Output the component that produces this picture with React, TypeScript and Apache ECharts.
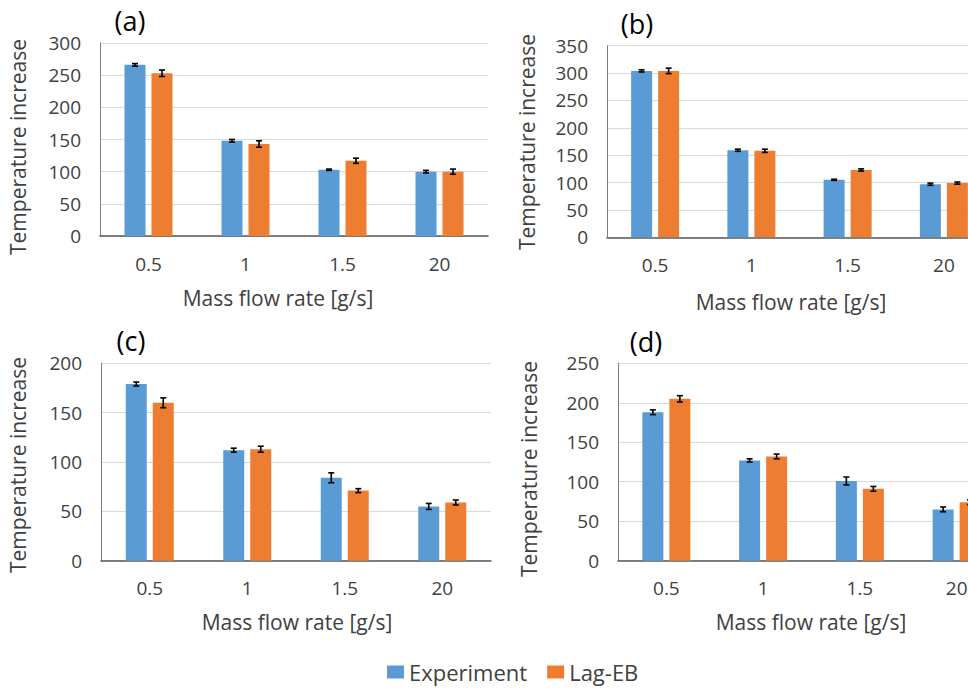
import React, { useEffect, useRef } from "react";
import * as echarts from "echarts";

const categories = ["0.5", "1", "1.5", "20"];

const aExp = [266, 148, 103, 100];
const aExpErr = [2, 2, 1, 2];
const aLag = [253, 143, 117, 100];
const aLagErr = [5, 5, 4, 4];

const bExp = [304, 159, 105, 97];
const bExpErr = [2, 2, 1, 2];
const bLag = [304, 158, 123, 99];
const bLagErr = [5, 3, 2, 2];

const cExp = [179, 112, 84, 55];
const cExpErr = [2, 2, 5, 3];
const cLag = [160, 113, 71, 59];
const cLagErr = [5, 3, 2, 2.5];

const dExp = [188, 127, 101, 65];
const dExpErr = [3, 2, 5, 3];
const dLag = [205, 132, 91, 74];
const dLagErr = [4, 3, 3, 3];

const yMax = [300, 350, 200, 250];
const panelLabels = ["(a)", "(b)", "(c)", "(d)"];
const seriesNames = ["Experiment", "Lag-EB"];

const FONT = "Open Sans";
const BLUE = "#5B9BD5";
const ORANGE = "#ED7D31";
const TEXT = "#404040";
const BAR_W = 21;
const BAR_GAP = 6;

const grids = [
  { left: 100, top: 43, width: 388, height: 193 },
  { left: 607, top: 45.7, width: 385, height: 191.6 },
  { left: 101, top: 363.3, width: 390, height: 197.4 },
  { left: 618, top: 363.3, width: 387, height: 197.4 },
];

const yNamePos = [
  [18, 147],
  [527, 142],
  [18, 465],
  [529, 469],
];
const xNamePos = [
  [278, 298],
  [791, 302],
  [297, 622],
  [811, 622],
];
const labelPos = [
  [130, 20],
  [637, 23],
  [131, 340],
  [646, 341],
];

export default function App() {
  const ref = useRef<HTMLDivElement>(null);
  useEffect(() => {
    if (!ref.current) return;
    const chart = echarts.init(ref.current, null, { renderer: "svg" });
    const panels = [
      [aExp, aExpErr, aLag, aLagErr],
      [bExp, bExpErr, bLag, bLagErr],
      [cExp, cExpErr, cLag, cLagErr],
      [dExp, dExpErr, dLag, dLagErr],
    ];
    const series: any[] = [];
    panels.forEach((p, i) => {
      const [exp, expErr, lag, lagErr] = p as number[][];
      series.push({
        type: "bar",
        name: seriesNames[0],
        xAxisIndex: i,
        yAxisIndex: i,
        data: exp,
        barWidth: BAR_W,
        barGap: (BAR_GAP / BAR_W) * 100 + "%",
        itemStyle: { color: BLUE },
      });
      series.push({
        type: "bar",
        name: seriesNames[1],
        xAxisIndex: i,
        yAxisIndex: i,
        data: lag,
        barWidth: BAR_W,
        barGap: (BAR_GAP / BAR_W) * 100 + "%",
        itemStyle: { color: ORANGE },
      });
      [
        [exp, expErr, -(BAR_W + BAR_GAP) / 2],
        [lag, lagErr, (BAR_W + BAR_GAP) / 2],
      ].forEach(([vals, errs, off]: any) => {
        series.push({
          type: "custom",
          xAxisIndex: i,
          yAxisIndex: i,
          z: 10,
          data: (vals as number[]).map((v, k) => [k, v - errs[k], v + errs[k]]),
          encode: { x: 0, y: [1, 2] },
          renderItem: (params: any, api: any) => {
            const xi = api.value(0);
            const lo = api.coord([xi, api.value(1)]);
            const hi = api.coord([xi, api.value(2)]);
            const x = lo[0] + off;
            const st = { stroke: "#000", lineWidth: 1.6 };
            return {
              type: "group",
              children: [
                { type: "line", shape: { x1: x, y1: hi[1], x2: x, y2: lo[1] }, style: st },
                { type: "line", shape: { x1: x - 3, y1: hi[1], x2: x + 3, y2: hi[1] }, style: st },
                { type: "line", shape: { x1: x - 3, y1: lo[1], x2: x + 3, y2: lo[1] }, style: st },
              ],
            };
          },
        });
      });
    });

    const graphics: any[] = [];
    for (let i = 0; i < 4; i++) {
      graphics.push({
        type: "text",
        x: yNamePos[i][0],
        y: yNamePos[i][1],
        rotation: Math.PI / 2,
        style: {
          text: "Temperature increase",
          font: `21px "${FONT}"`,
          fill: TEXT,
          align: "center",
          verticalAlign: "middle",
        },
      });
      graphics.push({
        type: "text",
        x: xNamePos[i][0],
        y: xNamePos[i][1],
        style: {
          text: "Mass flow rate [g/s]",
          font: `21px "${FONT}"`,
          fill: TEXT,
          align: "center",
          verticalAlign: "middle",
        },
      });
      graphics.push({
        type: "text",
        x: labelPos[i][0],
        y: labelPos[i][1],
        style: {
          text: panelLabels[i],
          font: `27px "${FONT}"`,
          fill: "#000",
          align: "center",
          verticalAlign: "middle",
        },
      });
    }

    chart.setOption({
      animation: false,
      backgroundColor: "#fff",
      textStyle: { fontFamily: FONT },
      legend: {
        data: seriesNames,
        left: 382,
        top: 656,
        icon: "rect",
        itemWidth: 17,
        itemHeight: 13,
        itemGap: 20,
        textStyle: { fontSize: 22, color: TEXT, fontFamily: FONT },
      },
      grid: grids.map((g) => ({ ...g, containLabel: false })),
      xAxis: grids.map((_, i) => ({
        type: "category",
        gridIndex: i,
        data: categories,
        axisTick: { show: false },
        axisLine: { lineStyle: { color: "#595959", width: 1.5 } },
        axisLabel: { color: TEXT, fontSize: 19, margin: 18, fontFamily: FONT },
      })),
      yAxis: grids.map((_, i) => ({
        type: "value",
        gridIndex: i,
        min: 0,
        max: yMax[i],
        interval: 50,
        axisLine: { show: true, lineStyle: { color: "#7f7f7f", width: 1 } },
        axisTick: { show: false },
        splitLine: { lineStyle: { color: "#d9d9d9", width: 1 } },
        axisLabel: { color: TEXT, fontSize: 19, margin: 19, fontFamily: FONT },
      })),
      series,
      graphic: graphics,
    });
    return () => chart.dispose();
  }, []);
  return (
    <div
      style={{
        position: "fixed",
        left: 0,
        top: 0,
        width: 968,
        height: 688,
        overflow: "hidden",
        background: "#fff",
      }}
    >
      <div ref={ref} style={{ width: 1020, height: 688 }} />
    </div>
  );
}
